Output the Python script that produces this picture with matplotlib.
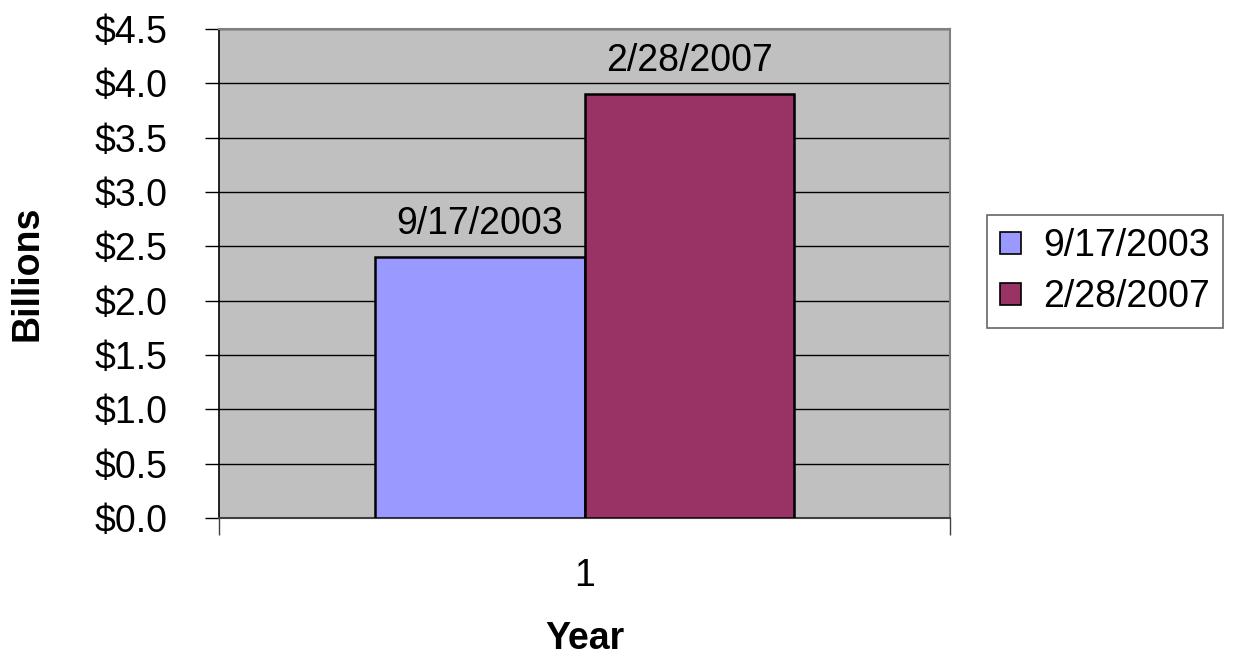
import numpy as np
import matplotlib.pyplot as plt
from matplotlib.ticker import FixedLocator, NullFormatter, FixedFormatter

plt.rcParams['font.family'] = ['Liberation Sans', 'DejaVu Sans']
FS = 27

categories = ['1']
series_names = ['9/17/2003', '2/28/2007']
values = [2.4, 3.9]
bar_colors = ['#9999FF', '#993366']
y_ticks = np.arange(0, 4.51, 0.5)

fig = plt.figure(figsize=(12.4, 6.57), dpi=100)
ax = fig.add_axes([219 / 1240, 1 - 518 / 657, 731 / 1240, 489 / 657])
ax.set_facecolor('#C0C0C0')

width = 0.287
offsets = [-width / 2, width / 2]
handles = []
for name, val, col, off in zip(series_names, values, bar_colors, offsets):
    b = ax.bar(0 + off, val, width, color=col, edgecolor='black',
               linewidth=1.8, label=name, zorder=3)
    handles.append(b)
    ax.annotate(name, (0 + off, val), xytext=(0, 11), textcoords='offset points',
                ha='center', va='bottom', fontsize=FS, zorder=4)

ax.set_xlim(-0.5, 0.5)
ax.set_ylim(0, 4.5)
ax.set_yticks(y_ticks)
ax.set_yticklabels(['${:.1f}'.format(t) for t in y_ticks], fontsize=FS)
ax.yaxis.grid(True, color='black', linewidth=1.0, zorder=0)
ax.set_axisbelow(True)

# category label sits between the two outer ticks
ax.xaxis.set_major_locator(FixedLocator([-0.5, 0.5]))
ax.xaxis.set_major_formatter(NullFormatter())
ax.xaxis.set_minor_locator(FixedLocator([0]))
ax.xaxis.set_minor_formatter(FixedFormatter(categories))
ax.tick_params(axis='x', which='major', length=12, width=1, color='#404040')
ax.tick_params(axis='x', which='minor', length=0, pad=29, labelsize=FS)
ax.tick_params(axis='y', length=10, width=1, pad=27)

ax.spines['left'].set_color('black')
ax.spines['left'].set_linewidth(1.2)
ax.spines['bottom'].set_color('#404040')
ax.spines['bottom'].set_linewidth(1.5)
for s in ['top', 'right']:
    ax.spines[s].set_color('#808080')
    ax.spines[s].set_linewidth(1.5)

ax.set_xlabel('Year', fontsize=FS, fontweight='bold', labelpad=19)
ax.set_ylabel('Billions', fontsize=FS, fontweight='bold', va='center')
ax.yaxis.set_label_coords(-(219 - 28) / 731, 0.5)

leg = ax.legend(handles=handles, labels=series_names, loc='upper left',
                bbox_to_anchor=(987 / 1240, 1 - 215 / 657), bbox_transform=fig.transFigure,
                fontsize=FS, frameon=True, fancybox=False, handlelength=0.55,
                handleheight=0.55, handletextpad=0.6, borderpad=0.35,
                labelspacing=0.4, borderaxespad=0)
leg.get_frame().set_edgecolor('#404040')
leg.get_frame().set_linewidth(1.2)
for h in leg.legend_handles:
    h.set_linewidth(1.2)

fig.savefig('out.png', dpi=100)
